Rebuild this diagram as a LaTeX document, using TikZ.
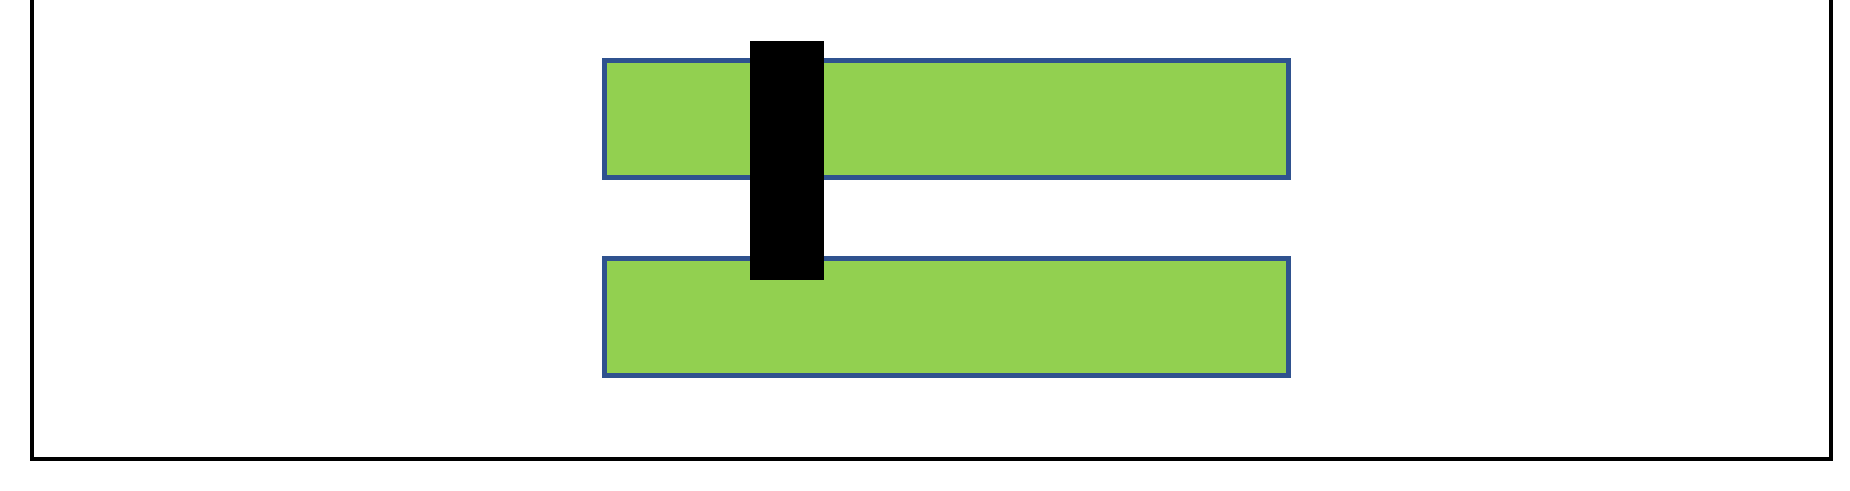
\documentclass[tikz,border=0pt]{standalone}
\usepackage{tikz}
\definecolor{barfill}{HTML}{92D050}
\definecolor{barline}{HTML}{2F528F}
\tikzset{
  bar/.style={draw=barline, fill=barfill, line width=4.5pt, rectangle, inner sep=0pt, anchor=north west},
  post/.style={fill=black, draw=none, rectangle, inner sep=0pt, anchor=north west},
  frameline/.style={draw=black, line width=4pt, line cap=rect}
}
\begin{document}
\begin{tikzpicture}[x=1pt,y=-1pt]
\useasboundingbox (0,0) rectangle (1850,490);
\node[bar, minimum width=684pt, minimum height=117pt] (top) at (602,58) {};
\node[bar, minimum width=684pt, minimum height=117pt] (bottom) at (602,256) {};
\node[post, minimum width=74pt, minimum height=239pt] (post) at (750,41) {};
\coordinate (tl) at (32,0);
\coordinate (bl) at (32,459);
\coordinate (br) at (1831,459);
\coordinate (tr) at (1831,0);
\draw[frameline] (tl) -- (bl) -- (br) -- (tr);
\end{tikzpicture}
\end{document}
